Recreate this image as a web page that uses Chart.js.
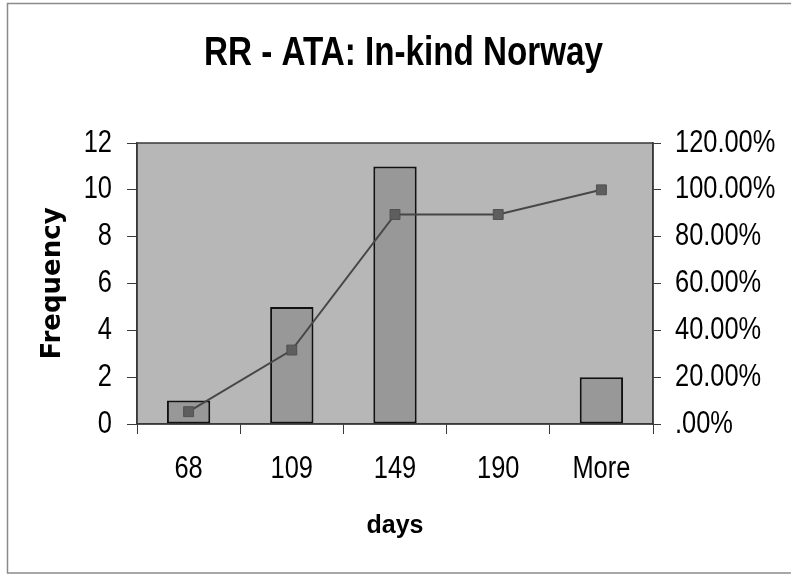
<!DOCTYPE html>
<html>

<head>
  <meta charset="utf-8" />
  <title>RR - ATA: In-kind Norway</title>
  <script src="https://cdn.jsdelivr.net/npm/chart.js@4.4.1/dist/chart.umd.min.js"></script>
  <style>
    body { margin: 0; background: #fff; }
    #wrap { width: 791px; height: 575px; position: relative; }
  </style>
</head>

<body>
  <div id="wrap">
    <canvas id="histogram"></canvas>
  </div>
  <script>
    // histogram bins (days) and counts
    var bins = ["68", "109", "149", "190", "More"];
    var frequency = [1, 5, 11, 0, 2];
    // cumulative share per bin, in percent
    var cumulative = [5.26, 31.58, 89.47, 89.47, 100.00];
    var freqTicks = [0, 2, 4, 6, 8, 10, 12];
    var pctTicks = [0, 20, 40, 60, 80, 100, 120];

    // no condensed face is installed, so text set in this family
    // gets squeezed horizontally when it is painted (see below)
    var narrow = "'Liberation Sans Narrow', 'Liberation Sans', Arial, sans-serif";
    var squeeze = 0.82;
    var axisColor = "#3a3a3a";

    var canvas = document.getElementById("histogram");
    var ctx = canvas.getContext("2d");

    var plainFillText = ctx.fillText;
    ctx.fillText = function(text, x, y, maxWidth) {
      if (this.font.indexOf("Liberation Sans Narrow") === -1) {
        return plainFillText.call(this, text, x, y, maxWidth);
      }
      this.save();
      this.translate(x, y);
      this.scale(squeeze, 1);
      plainFillText.call(this, text, 0, 0);
      this.restore();
    };

    // grey plot area with a frame, plus the outer chart border
    var plotFrame = {
      id: 'plotFrame',
      beforeDraw: function(chart) {
        var a = chart.chartArea, c = chart.ctx;
        c.save();
        c.fillStyle = "#b7b7b7";
        c.fillRect(a.left, a.top, a.right - a.left, a.bottom - a.top);
        c.restore();
      },
      afterDraw: function(chart) {
        var a = chart.chartArea, c = chart.ctx;
        c.save();
        c.strokeStyle = axisColor;
        c.lineWidth = 1.5;
        c.strokeRect(a.left, a.top, a.right - a.left, a.bottom - a.top);
        c.strokeStyle = "#8a8a8a";
        c.lineWidth = 1.5;
        c.strokeRect(7.5, 3.5, 800, 569.5);
        c.restore();
      }
    };

    var chart = new Chart(ctx, {
      data: {
        labels: bins,
        datasets: [{
          type: 'line',
          label: "Cumulative %",
          data: cumulative,
          yAxisID: 'y1',
          borderColor: "#474747",
          borderWidth: 2,
          pointStyle: 'rect',
          pointRadius: 7,
          pointBackgroundColor: "#5e5e5e",
          pointBorderColor: "#505050",
          pointBorderWidth: 1,
          order: 0
        }, {
          type: 'bar',
          label: "Frequency",
          data: frequency,
          yAxisID: 'y',
          backgroundColor: "#989898",
          borderColor: "#111111",
          borderWidth: 2,
          borderSkipped: false,
          categoryPercentage: 1,
          barPercentage: 0.42,
          order: 1
        }]
      },
      options: {
        responsive: true,
        maintainAspectRatio: false,
        animation: false,
        layout: { padding: { left: 16, right: 0, top: 0, bottom: 0 } },
        plugins: {
          legend: { display: false },
          tooltip: { enabled: false },
          title: {
            display: true,
            text: "RR - ATA: In-kind Norway",
            color: "#000",
            font: { family: narrow, size: 40.5, weight: 'bold', lineHeight: 1.2 },
            padding: { top: 30, bottom: 64.4 }
          }
        },
        scales: {
          x: {
            position: 'bottom',
            afterFit: function(scale) { scale.height = 151; },
            grid: {
              drawOnChartArea: false,
              drawTicks: true,
              tickLength: 10,
              tickColor: axisColor,
              offset: true
            },
            border: { display: true, color: axisColor, width: 1.5 },
            ticks: {
              color: "#000",
              padding: 17,
              font: { family: narrow, size: 31 }
            },
            title: {
              display: true,
              text: "days",
              color: "#000",
              font: { family: "'Liberation Sans', Arial, sans-serif", size: 25, weight: 'bold', lineHeight: 1.2 },
              padding: { top: 0, bottom: 34 }
            }
          },
          y: {
            position: 'left',
            min: 0,
            max: 12,
            afterFit: function(scale) { scale.width = 121; },
            afterBuildTicks: function(scale) {
              scale.ticks = freqTicks.map(function(v) { return { value: v }; });
            },
            grid: {
              drawOnChartArea: false,
              tickLength: 10,
              tickColor: axisColor
            },
            border: { display: true, color: axisColor, width: 1.5 },
            ticks: {
              color: "#000",
              padding: 15,
              font: { family: narrow, size: 31 }
            },
            title: {
              display: true,
              text: "Frequency",
              color: "#000",
              font: { family: "'DejaVu Sans', sans-serif", size: 26, weight: 'bold', lineHeight: 1.2 },
              padding: { top: 22, bottom: 0 }
            }
          },
          y1: {
            position: 'right',
            min: 0,
            max: 120,
            afterFit: function(scale) { scale.width = 138; },
            afterBuildTicks: function(scale) {
              scale.ticks = pctTicks.map(function(v) { return { value: v }; });
            },
            grid: {
              drawOnChartArea: false,
              tickLength: 8,
              tickColor: axisColor
            },
            border: { display: true, color: axisColor, width: 1.5 },
            ticks: {
              color: "#000",
              padding: 14,
              font: { family: narrow, size: 31 },
              callback: function(value) {
                return value === 0 ? ".00%" : value.toFixed(2) + "%";
              }
            }
          }
        }
      },
      plugins: [plotFrame]
    });
  </script>
</body>

</html>
